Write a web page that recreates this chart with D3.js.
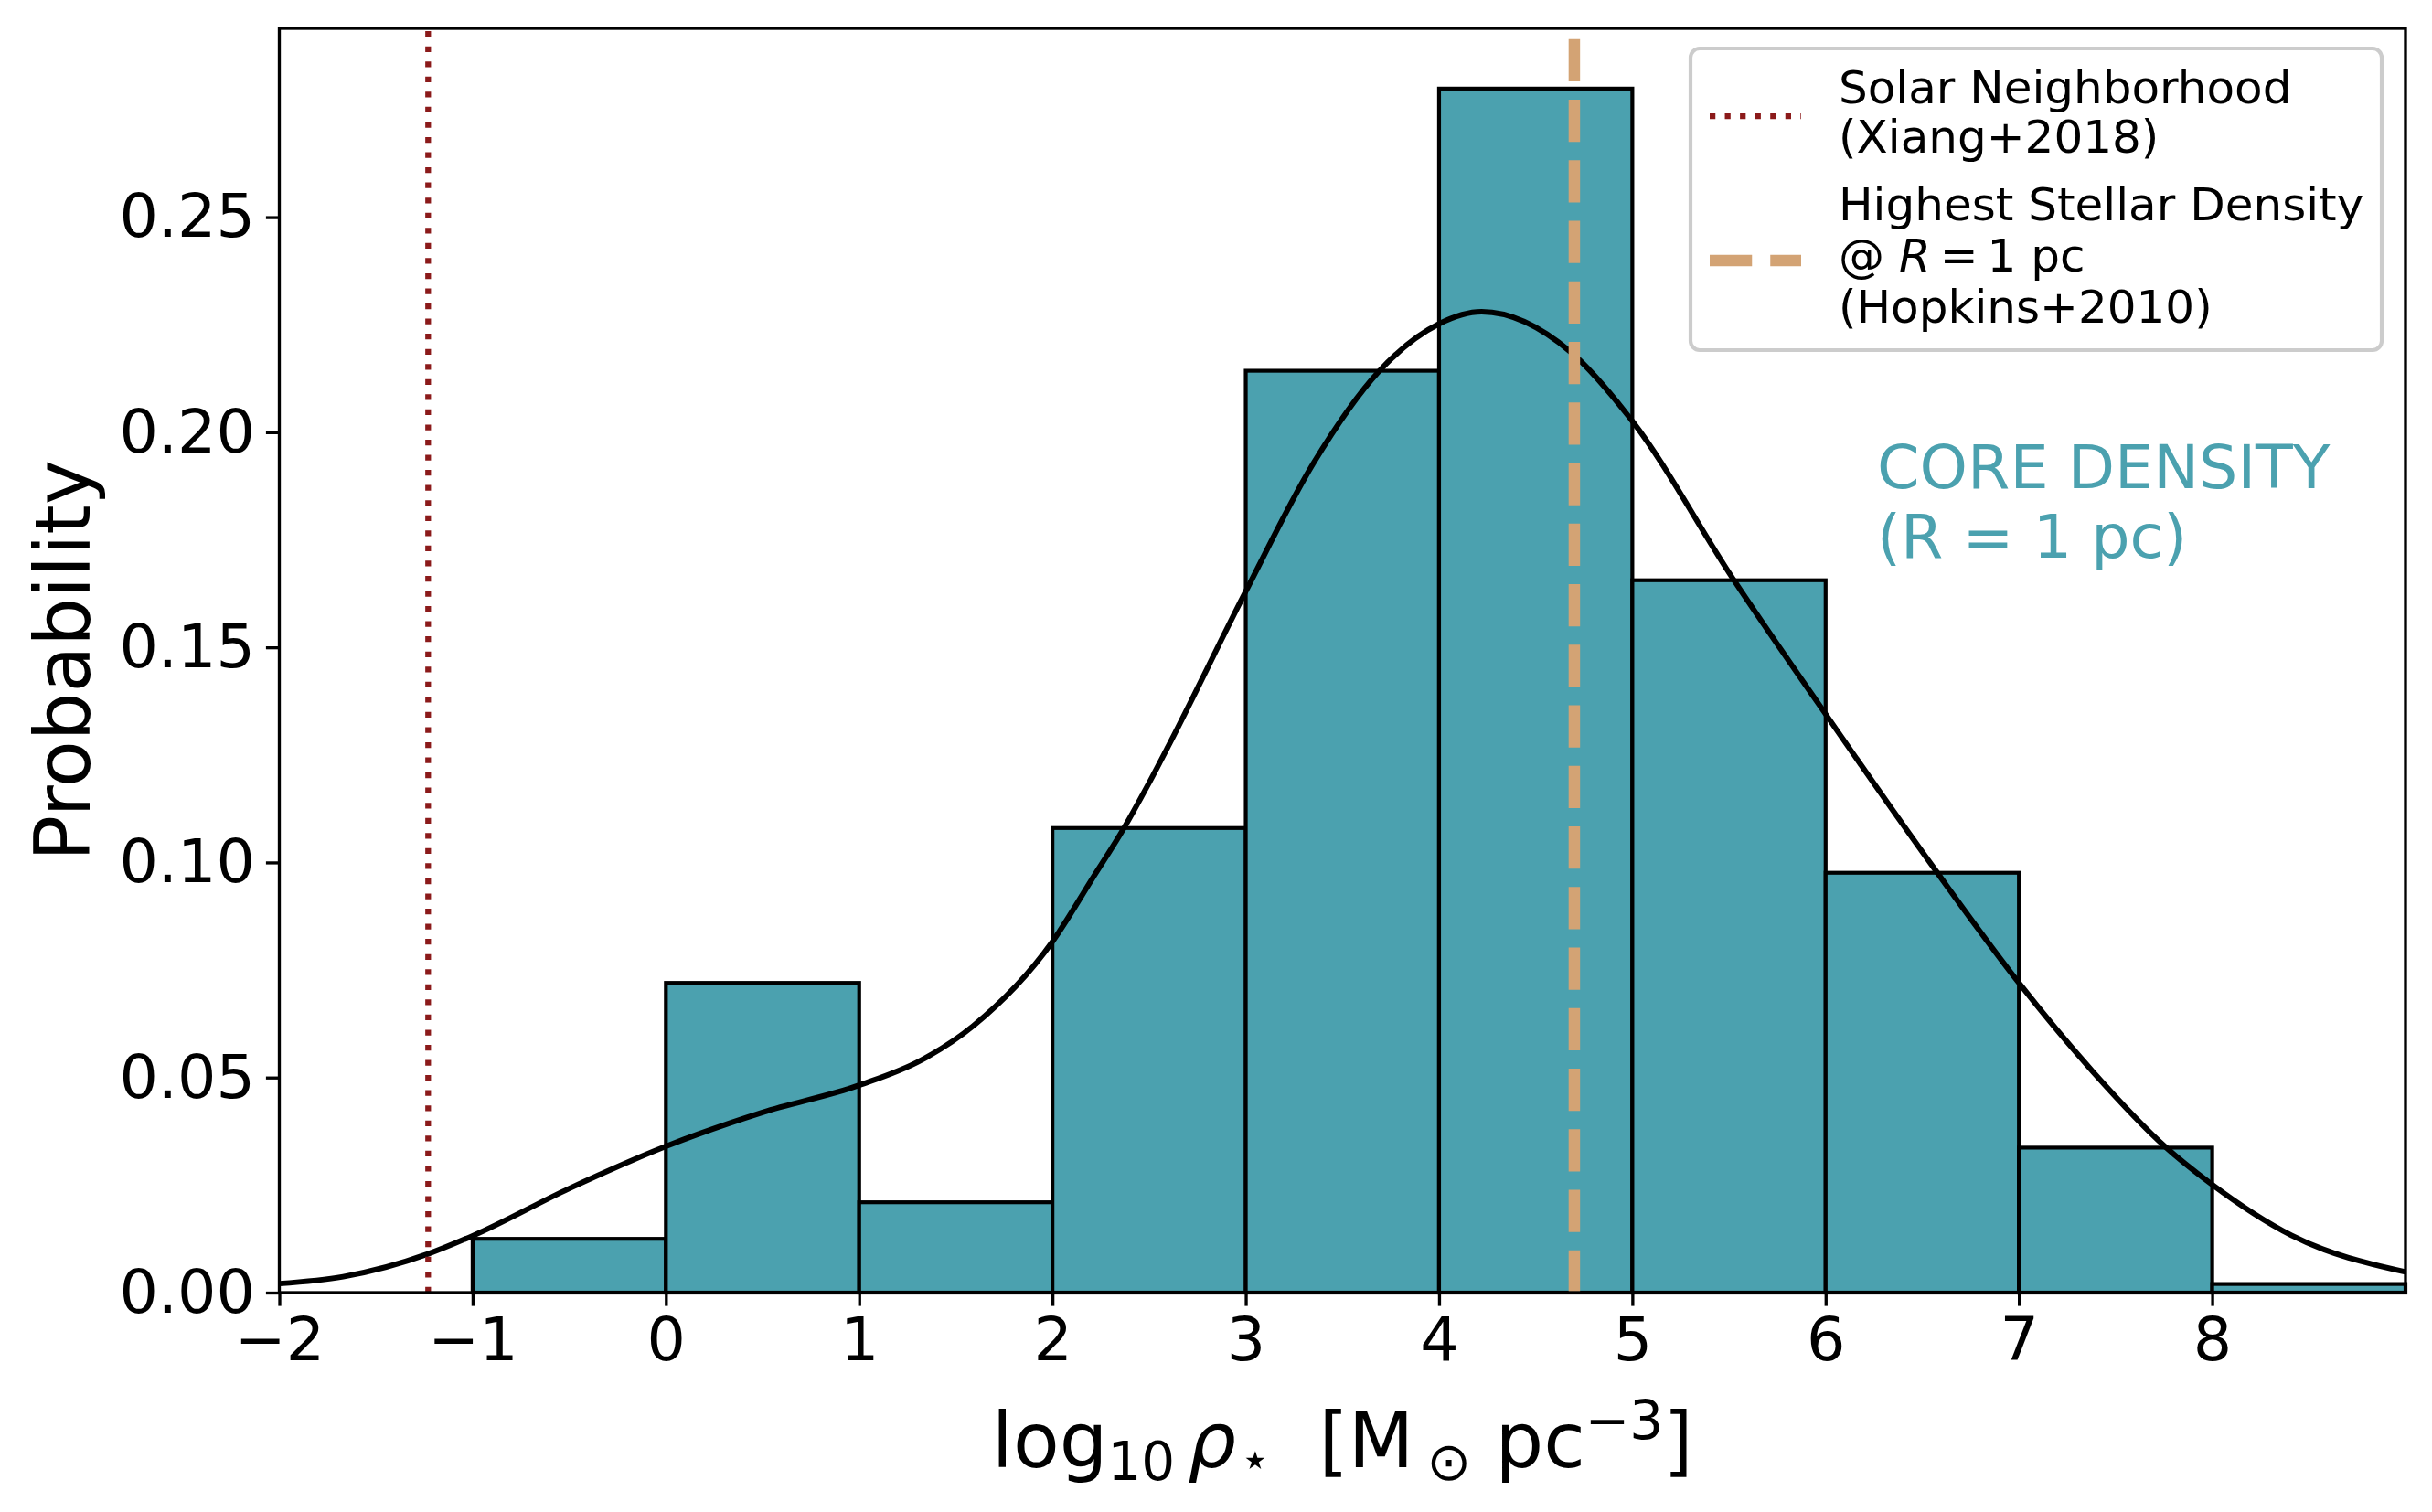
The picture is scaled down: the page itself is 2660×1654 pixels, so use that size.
<!DOCTYPE html>
<html>
<head>
<meta charset="utf-8">
<script src="https://cdn.jsdelivr.net/npm/d3@7"></script>
<style>
  body { margin: 0; background: #fff; }
  text { font-family: "DejaVu Sans", sans-serif; }
</style>
</head>
<body>
<div id="chart"></div>
<script>
// Histogram bins (left edges) and their probability
const binLeft = [-1, 0, 1, 2, 3, 4, 5, 6, 7, 8];
const binProb = [0.0125, 0.0720, 0.0210, 0.1080, 0.2143, 0.2799, 0.1656, 0.0976, 0.0337, 0.0020];

// KDE curve
const kdeX = [-2, -1.67, -1.23, -1, -0.5, 0, 0.5, 1, 1.32, 1.59, 2, 2.21, 2.37, 2.49, 2.6, 3,
  3.35, 3.69, 4, 4.22, 4.68, 5, 5.52, 6, 6.57, 7, 7.38, 7.76, 8, 8.41, 9];
const kdeY = [0.0021, 0.0037, 0.0090, 0.0132, 0.0242, 0.0340, 0.0419, 0.0482, 0.0540, 0.0620, 0.0816,
  0.0965, 0.1080, 0.1177, 0.1271, 0.1630, 0.1928, 0.2142, 0.2252, 0.2280, 0.2187, 0.2026, 0.1660,
  0.1345, 0.0981, 0.0720, 0.0515, 0.0338, 0.0251, 0.0133, 0.0048];

// Reference lines
const solarX = -1.23;
const hopkinsX = 4.7;

const xTicks = [-2, -1, 0, 1, 2, 3, 4, 5, 6, 7, 8];
const yTicks = [0, 0.05, 0.10, 0.15, 0.20, 0.25];

const W = 2660, H = 1654;
const pL = 305.5, pR = 2631, pT = 31, pB = 1414;
const teal = "#4ba1af", tan = "#d3a374", red = "#8b1a1a";

const x = d3.scaleLinear().domain([-2, 9]).range([pL, pR]);
const y = d3.scaleLinear().domain([0, 0.2939]).range([pB, pT]);

const svg = d3.select("#chart").append("svg")
    .attr("width", W)
    .attr("height", H)
    .attr("viewBox", `0 0 ${W} ${H}`);

const plot = svg.append("g");

// bars
plot.selectAll("rect.bar")
    .data(binLeft.map((b, i) => ({ x0: b, x1: b + 1, p: binProb[i] })))
    .enter().append("rect")
    .attr("class", "bar")
    .attr("x", d => x(d.x0))
    .attr("y", d => y(d.p))
    .attr("width", d => x(d.x1) - x(d.x0))
    .attr("height", d => y(0) - y(d.p))
    .attr("fill", teal)
    .attr("stroke", "#000")
    .attr("stroke-width", 4.2);

// kde line
const kde = kdeX.map((v, i) => [v, kdeY[i]]);
plot.append("path")
    .datum(kde)
    .attr("fill", "none")
    .attr("stroke", "#000")
    .attr("stroke-width", 6)
    .attr("d", d3.line().x(d => x(d[0])).y(d => y(d[1])).curve(d3.curveMonotoneX));

// vertical reference lines, drawn from the bottom up
plot.append("line")
    .attr("x1", x(solarX)).attr("x2", x(solarX))
    .attr("y1", pB).attr("y2", pT)
    .attr("stroke", red)
    .attr("stroke-width", 6.25)
    .attr("stroke-dasharray", "6.25 10.3");

plot.append("line")
    .attr("x1", x(hopkinsX)).attr("x2", x(hopkinsX))
    .attr("y1", pB).attr("y2", pT)
    .attr("stroke", tan)
    .attr("stroke-width", 12.5)
    .attr("stroke-dasharray", "46.25 20");

// axes
const xAxis = svg.append("g")
    .attr("transform", `translate(0, ${pB})`)
    .call(d3.axisBottom(x).tickValues(xTicks).tickFormat(d3.format("d")).tickSize(14.6).tickPadding(12));
const yAxis = svg.append("g")
    .attr("transform", `translate(${pL}, 0)`)
    .call(d3.axisLeft(y).tickValues(yTicks).tickFormat(d3.format(".2f")).tickSize(14.6).tickPadding(12));

[xAxis, yAxis].forEach(a => {
  a.select(".domain").remove();
  a.selectAll(".tick line").attr("stroke", "#000").attr("stroke-width", 3.33);
  a.selectAll(".tick text")
      .attr("fill", "#000")
      .style("font-size", "66.7px")
      .style("font-family", "DejaVu Sans");
});

// frame
svg.append("rect")
    .attr("x", pL).attr("y", pT)
    .attr("width", pR - pL).attr("height", pB - pT)
    .attr("fill", "none")
    .attr("stroke", "#000")
    .attr("stroke-width", 3.33);

// axis labels
svg.append("text")
    .attr("transform", `translate(98, ${(pT + pB) / 2}) rotate(-90)`)
    .attr("text-anchor", "middle")
    .style("font-size", "83px")
    .text("Probability");

const xl = svg.append("text")
    .attr("x", (pL + pR) / 2)
    .attr("y", 1605)
    .attr("text-anchor", "middle")
    .style("font-size", "83px");
xl.append("tspan").text("log");
xl.append("tspan").attr("dy", 14).style("font-size", "58px").text("10");
xl.append("tspan").attr("dy", -14).attr("dx", 14).style("font-style", "italic").text("ρ");
xl.append("tspan").attr("dy", 10).attr("dx", 4).style("font-size", "54px").text("⋆");
xl.append("tspan").attr("dy", -10).text("\u00a0\u00a0[M");
xl.append("tspan").attr("dy", 14).attr("dx", 14).style("font-size", "58px").text("⊙");
xl.append("tspan").attr("dy", -14).text(" pc");
xl.append("tspan").attr("dy", -31).style("font-size", "58px").text("−3");
xl.append("tspan").attr("dy", 31).text("]");

// legend
const lg = svg.append("g");
lg.append("rect")
    .attr("x", 1849).attr("y", 53)
    .attr("width", 2605 - 1849).attr("height", 383 - 53)
    .attr("rx", 10).attr("ry", 10)
    .attr("fill", "#fff").attr("fill-opacity", 0.8)
    .attr("stroke", "#cccccc").attr("stroke-width", 4.17);

lg.append("line")
    .attr("x1", 1870).attr("x2", 1970).attr("y1", 127).attr("y2", 127)
    .attr("stroke", red).attr("stroke-width", 6.25).attr("stroke-dasharray", "6.25 10.3");
lg.append("line")
    .attr("x1", 1870).attr("x2", 1970).attr("y1", 285).attr("y2", 285)
    .attr("stroke", tan).attr("stroke-width", 12.5).attr("stroke-dasharray", "46.25 20");

const legendLines = [
  { y: 113, parts: [["Solar Neighborhood", false]] },
  { y: 167, parts: [["(Xiang+2018)", false]] },
  { y: 241, parts: [["Highest Stellar Density", false]] },
  { y: 297, parts: [["@ ", false], ["R", true], ["\u2009=\u20091", false], [" pc", false]] },
  { y: 353, parts: [["(Hopkins+2010)", false]] }
];
legendLines.forEach(l => {
  const t = lg.append("text").attr("x", 2011).attr("y", l.y).style("font-size", "50px");
  l.parts.forEach(p => t.append("tspan").style("font-style", p[1] ? "italic" : "normal").text(p[0]));
});

// annotation
const ann = svg.append("text")
    .attr("x", 2053).attr("y", 534)
    .attr("fill", teal)
    .style("font-size", "66.7px");
ann.append("tspan").attr("x", 2053).text("CORE DENSITY");
ann.append("tspan").attr("x", 2053).attr("dy", 76).text("(R = 1 pc)");
</script>
</body>
</html>
